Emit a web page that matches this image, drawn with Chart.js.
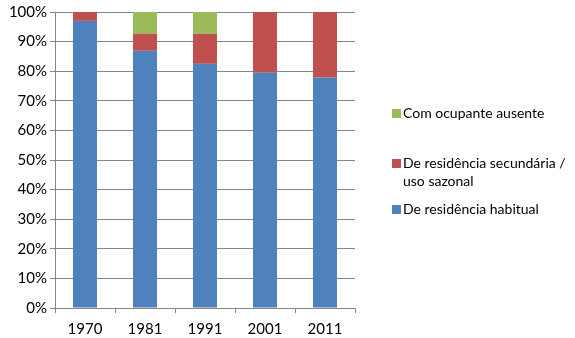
<!DOCTYPE html>
<html>
<head>
<meta charset="utf-8">
<script src="https://cdn.jsdelivr.net/npm/chart.js@4"></script>
<style>
  body { margin: 0; background: #fff; }
  #wrap { position: relative; width: 575px; height: 338px; }
  #legend { position: absolute; left: 392px; top: 0; font-family: Lato, "Open Sans", sans-serif; font-size: 14px; color: #000; }
  .item { position: absolute; left: 0; white-space: nowrap; line-height: 18px; }
  .item span.box { position: absolute; left: 0; top: 5px; width: 9px; height: 9px; }
  .item span.txt { display: block; padding-left: 11px; }
</style>
</head>
<body>
<div id="wrap">
  <canvas id="chart" width="575" height="338"></canvas>
  <div id="legend"></div>
</div>
<script>
const years = ['1970', '1981', '1991', '2001', '2011'];
const habitual = [97, 86.9, 82.5, 79.5, 77.9];
const secundaria = [3, 5.8, 10.1, 20.5, 22.1];
const ausente = [0, 7.3, 7.4, 0, 0];
const yTicks = [0, 10, 20, 30, 40, 50, 60, 70, 80, 90, 100];

const seriesNames = ['De residência habitual', ['De residência secundária /', 'uso sazonal'], 'Com ocupante ausente'];
const colors = ['#4F81BD', '#C0504D', '#9BBB59'];

const ctx = document.getElementById('chart').getContext('2d');
const chart = new Chart(ctx, {
    type: 'bar',
    data: {
        labels: years,
        datasets: [
            { label: 'De residência habitual', data: habitual, backgroundColor: colors[0] },
            { label: 'De residência secundária / uso sazonal', data: secundaria, backgroundColor: colors[1] },
            { label: 'Com ocupante ausente', data: ausente, backgroundColor: colors[2] }
        ]
    },
    options: {
        responsive: false,
        animation: false,
        layout: { padding: { left: 0, top: 4, right: 220, bottom: 0 } },
        datasets: { bar: { barPercentage: 0.4, categoryPercentage: 1 } },
        plugins: { legend: { display: false }, tooltip: { enabled: false } },
        scales: {
            x: {
                stacked: true,
                grid: { offset: true, drawOnChartArea: false, color: '#868686', tickLength: 5 },
                border: { color: '#868686' },
                ticks: { color: '#000', font: { family: 'Lato', size: 15 }, padding: 7 },
                afterFit: axis => { axis.height = 30; }
            },
            y: {
                stacked: true,
                min: 0,
                max: 100,
                afterBuildTicks: axis => { axis.ticks = yTicks.map(v => ({ value: v })); },
                grid: { color: '#868686', tickLength: 5 },
                border: { color: '#868686' },
                ticks: { color: '#000', font: { family: 'Lato', size: 15 }, padding: 3, callback: v => v + '%' },
                afterFit: axis => { axis.width = 55; }
            }
        }
    }
});

// legend drawn as html, in reverse order like the original
const legend = document.getElementById('legend');
const legendTops = [200, 154, 104];
for (let i = seriesNames.length - 1; i >= 0; i--) {
    const lines = Array.isArray(seriesNames[i]) ? seriesNames[i] : [seriesNames[i]];
    const div = document.createElement('div');
    div.className = 'item';
    div.style.top = legendTops[i] + 'px';
    div.innerHTML = '<span class="box" style="background:' + colors[i] + '"></span>' +
        lines.map(t => '<span class="txt">' + t + '</span>').join('');
    legend.appendChild(div);
}
</script>
</body>
</html>
